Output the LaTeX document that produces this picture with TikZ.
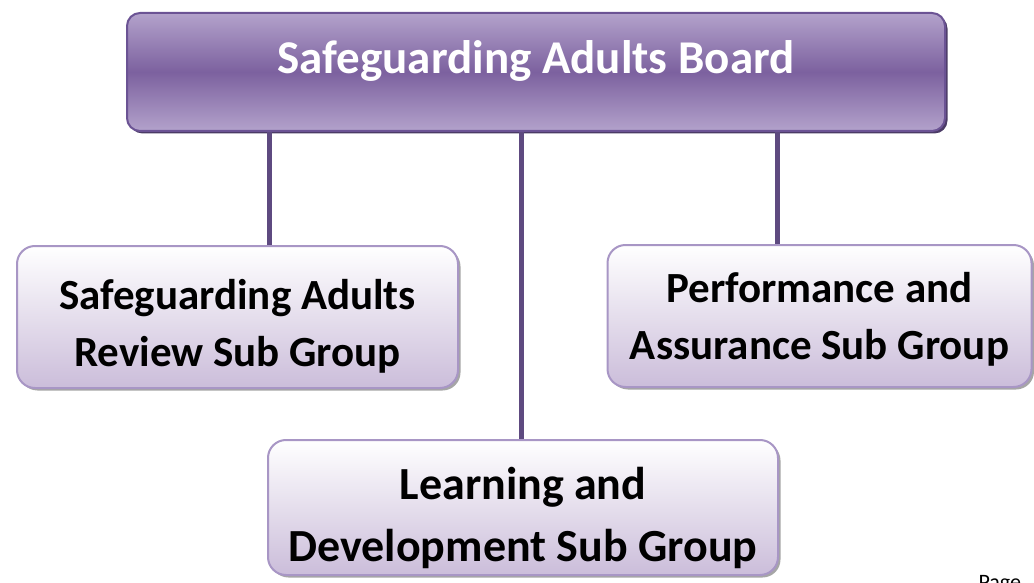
\documentclass[tikz,border=0pt]{standalone}
\usepackage{fontspec}
\setmainfont{Carlito}
\usetikzlibrary{shadows}

\definecolor{boardlight}{HTML}{B3A2CB}
\definecolor{boarddark}{HTML}{7C619F}
\definecolor{boardedge}{HTML}{6B5394}
\definecolor{boardshade}{HTML}{4B3B66}
\definecolor{grouplow}{HTML}{CBBDDA}
\definecolor{groupedge}{HTML}{A896C5}
\definecolor{linkcol}{HTML}{5E4A80}

\tikzset{
	boardbox/.style={draw=boardedge, line width=2pt, rounded corners=13pt,
		top color=boardlight, bottom color=boardlight, middle color=boarddark,
		drop shadow={shadow xshift=2.5pt, shadow yshift=-2.5pt, fill=boardshade, opacity=1}},
	boardtext/.style={text=white, font=\bfseries\fontsize{47}{56}\selectfont},
	groupbox/.style={draw=groupedge, line width=2pt, rounded corners=18pt,
		top color=white, bottom color=grouplow,
		drop shadow={shadow xshift=2.5pt, shadow yshift=-2.5pt, fill=gray!70, opacity=1}},
	grouptext/.style={align=center, font=\bfseries\fontsize{43}{57}\selectfont},
	link/.style={draw=linkcol, line width=5pt},
}

\begin{document}
\begin{tikzpicture}[x=1pt, y=-1pt]
		\useasboundingbox (0, 0) rectangle (1034, 583);
		% boxes
		\node[boardbox, minimum width=818pt, minimum height=118pt] (board) at (536, 72) {};
		\node[groupbox, minimum width=441pt, minimum height=142pt] (review) at (237.5, 317) {};
		\node[groupbox, minimum width=424pt, minimum height=142pt] (assurance) at (819.5, 316) {};
		\node[groupbox, minimum width=510pt, minimum height=135pt] (learning) at (523, 507.5) {};
		% texts
		\node[boardtext, yshift=11pt] (board text) at (board.center) {Safeguarding Adults Board};
		\node[grouptext, yshift=-9pt] (review text) at (review.center)
			{Safeguarding Adults\\Review Sub Group};
		\node[grouptext, yshift=-3pt] (assurance text) at (assurance.center)
			{Performance and\\Assurance Sub Group};
		\node[grouptext, yshift=-10pt, font=\bfseries\fontsize{46}{62}\selectfont]
			(learning text) at (learning.center)
			{Learning and\\Development Sub Group};
		\path
			(board.south west) ++(143, 0) coordinate (rl)
			(board.south west) ++(395, 0) coordinate (ll)
			(board.south west) ++(651, 0) coordinate (al)
		;
		\draw[link]
			(rl) -- (rl |- review.north)
			(ll) -- (ll |- learning.north)
			(al) -- (al |- assurance.north)
		;
		\node[anchor=base west, font=\fontsize{22}{26}\selectfont] (page) at (975, 589) {Page};
	\end{tikzpicture}
\end{document}
